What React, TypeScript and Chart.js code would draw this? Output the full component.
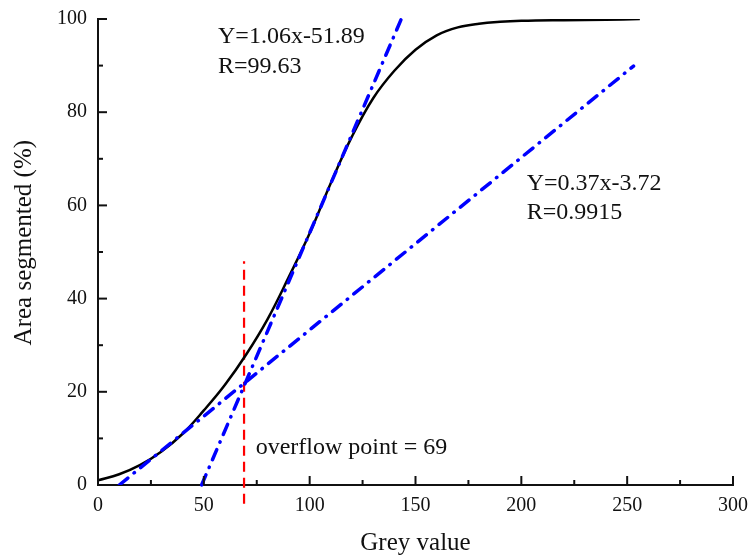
import React, { useEffect, useRef } from "react";
import { Chart, registerables } from "chart.js";

Chart.register(...registerables);

// Sigmoid curve: area segmented (%) vs grey value
const curveX = [0, 10, 20, 30, 40, 50, 60, 70, 80, 90, 100, 110, 120, 130, 140, 150, 160, 170, 180, 190, 200, 220, 240, 256];
const curveY = [1, 2.3, 4.3, 7.2, 11, 16, 21.5, 28, 35.5, 44.5, 54, 64.8, 74.8, 83, 88.9, 93.4, 96.5, 98.2, 99, 99.4, 99.6, 99.75, 99.85, 100];

// Fitted line 1: Y=1.06x-51.89 (end points)
const fit1X = [48.95, 143.3];
const fit1Y = [0, 100];
// Fitted line 2: Y=0.37x-3.72 (end points)
const fit2X = [10.05, 253];
const fit2Y = [0, 89.9];
// Overflow marker
const markX = [69, 69];
const markY = [-4, 48];

const xTicks = [0, 50, 100, 150, 200, 250, 300];
const yTicks = [0, 20, 40, 60, 80, 100];

const annotations = [
  { text: "Y=1.06x-51.89", x: 56.7, y: 94.8 },
  { text: "R=99.63", x: 56.7, y: 88.4 },
  { text: "Y=0.37x-3.72", x: 202.5, y: 63.3 },
  { text: "R=0.9915", x: 202.5, y: 57 },
  { text: "overflow point = 69", x: 74.5, y: 6.6 },
];

const yTitle = "Area segmented (%)";

const SERIF = "'Liberation Serif', 'Times New Roman', serif";
const INK = "#111";

const inwardTicks = {
  id: "inwardTicks",
  afterDatasetsDraw(chart: any) {
    const { ctx, scales } = chart;
    const xs = scales.x;
    const ys = scales.y;
    ctx.save();
    ctx.strokeStyle = INK;
    ctx.lineWidth = 2;
    for (let v = 0; v <= 300; v += 25) {
      const px = xs.getPixelForValue(v);
      const len = v % 50 === 0 ? 9 : 5;
      ctx.beginPath();
      ctx.moveTo(px, ys.bottom);
      ctx.lineTo(px, ys.bottom - len);
      ctx.stroke();
    }
    for (let v = 0; v <= 100; v += 10) {
      const py = ys.getPixelForValue(v);
      const len = v % 20 === 0 ? 9 : 5;
      ctx.beginPath();
      ctx.moveTo(xs.left, py);
      ctx.lineTo(xs.left + len, py);
      ctx.stroke();
    }
    ctx.fillStyle = INK;
    ctx.font = `24px ${SERIF}`;
    ctx.textBaseline = "alphabetic";
    ctx.textAlign = "left";
    for (const a of annotations) {
      ctx.fillText(a.text, xs.getPixelForValue(a.x), ys.getPixelForValue(a.y));
    }
    // y axis title
    ctx.font = `25px ${SERIF}`;
    ctx.textAlign = "center";
    ctx.translate(31, ys.getPixelForValue(52));
    ctx.rotate(-Math.PI / 2);
    ctx.fillText(yTitle, 0, 0);
    ctx.restore();
  },
};

export default function App() {
  const ref = useRef<HTMLCanvasElement | null>(null);

  useEffect(() => {
    if (!ref.current) return;
    const toPts = (xa: number[], ya: number[]) => xa.map((x, i) => ({ x, y: ya[i] }));
    const chart = new Chart(ref.current, {
      type: "scatter",
      data: {
        datasets: [
          {
            data: toPts(fit2X, fit2Y),
            showLine: true,
            borderColor: "#0000ff",
            borderWidth: 3.5,
            borderDash: [11, 8, 0.5, 8],
            borderCapStyle: "round",
            pointRadius: 0,
          },
          {
            data: toPts(fit1X, fit1Y),
            showLine: true,
            borderColor: "#0000ff",
            borderWidth: 3.5,
            borderDash: [11, 8, 0.5, 8],
            borderCapStyle: "round",
            pointRadius: 0,
            clip: false,
          },
          {
            data: toPts(curveX, curveY),
            showLine: true,
            borderColor: "#000",
            borderWidth: 2.5,
            tension: 0.4,
            pointRadius: 0,
          },
          {
            data: toPts(markX, markY),
            showLine: true,
            borderColor: "#ff0000",
            borderWidth: 2.2,
            borderDash: [10, 6],
            pointRadius: 0,
            clip: false,
          },
        ] as any,
      },
      options: {
        animation: false,
        responsive: false,
        maintainAspectRatio: false,
        layout: { padding: { left: 0, right: 17, top: 19, bottom: 0 } },
        plugins: { legend: { display: false }, tooltip: { enabled: false } },
        scales: {
          x: {
            type: "linear",
            min: 0,
            max: 300,
            afterBuildTicks: (s: any) => {
              s.ticks = xTicks.map((v) => ({ value: v }));
            },
            afterFit: (s: any) => {
              s.height = 73;
              s.paddingLeft = 0;
              s.paddingRight = 0;
            },
            grid: { display: false, drawTicks: false },
            border: { display: true, color: INK, width: 2 },
            ticks: {
              color: INK,
              padding: 9,
              maxRotation: 0,
              font: { family: SERIF, size: 20 },
            },
            title: {
              display: true,
              text: "Grey value",
              color: INK,
              font: { family: SERIF, size: 25 },
              padding: { top: 0, bottom: 0 },
            },
          },
          y: {
            type: "linear",
            min: 0,
            max: 100,
            afterBuildTicks: (s: any) => {
              s.ticks = yTicks.map((v) => ({ value: v }));
            },
            afterFit: (s: any) => {
              s.width = 98;
              s.paddingTop = 0;
              s.paddingBottom = 0;
            },
            grid: { display: false, drawTicks: false },
            border: { display: true, color: INK, width: 2 },
            ticks: {
              color: INK,
              padding: 11,
              font: { family: SERIF, size: 20 },
            },
          },
        },
      },
      plugins: [inwardTicks],
    });
    return () => chart.destroy();
  }, []);

  return (
    <div style={{ position: "absolute", left: 0, top: 0, width: 750, height: 558, background: "#fff" }}>
      <canvas ref={ref} width={750} height={558} />
    </div>
  );
}
